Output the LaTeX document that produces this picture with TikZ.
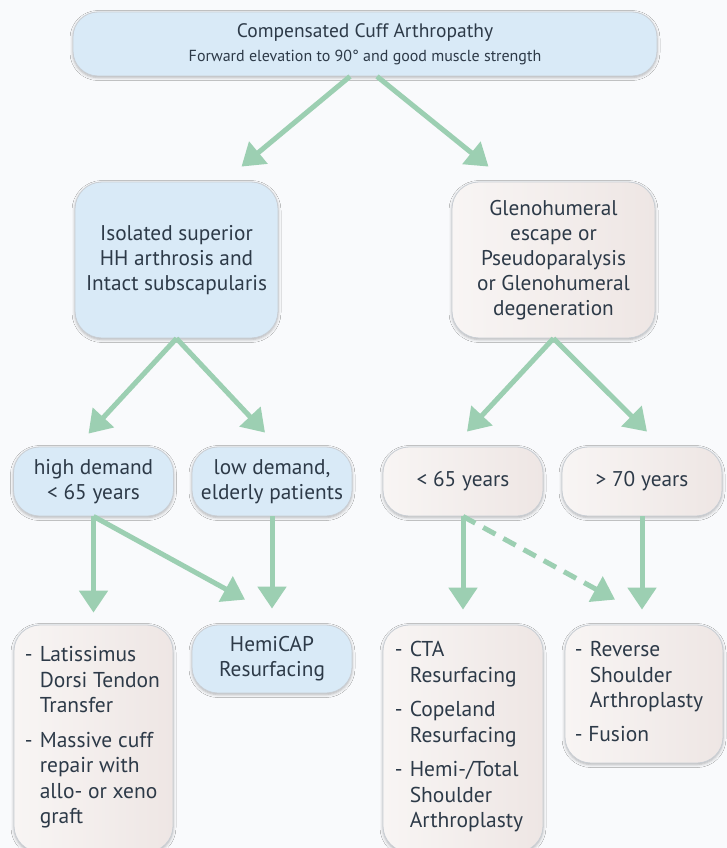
\documentclass[tikz,border=0pt]{standalone}
\usepackage{fontspec}
\setmainfont{PT Sans}
\usetikzlibrary{arrows.meta,calc,shadows.blur}
\definecolor{bgc}{HTML}{F9FAFC}
\definecolor{boxblue}{HTML}{D9EAF7}
\definecolor{beigeL}{HTML}{F8F5F4}
\definecolor{beigeR}{HTML}{EEE6E4}
\definecolor{bordc}{HTML}{C9CED4}
\definecolor{txtc}{HTML}{2D3A48}
\definecolor{arrc}{HTML}{9CCFB2}
\tikzset{
  box/.style={draw=bordc, line width=0.8pt, rounded corners=26pt, inner sep=0pt,
    text=txtc, align=center, font=\fontsize{21.3}{25}\selectfont,
    blur shadow={shadow xshift=0pt, shadow yshift=-1.5pt, shadow blur radius=3pt, shadow opacity=30}},
  bluebox/.style={box, fill=boxblue},
  beigebox/.style={box, left color=beigeL, right color=beigeR},
  listtxt/.style={anchor=base west, inner sep=0pt, text=txtc, font=\fontsize{21.5}{25.5}\selectfont},
  conn/.style={draw=arrc, line width=5pt, -{Triangle[width=28pt,length=22pt]}},
}
\newcommand{\lst}[1]{\begin{tabular}[t]{@{}p{15pt}@{}l@{}}#1\end{tabular}}
\begin{document}
\begin{tikzpicture}[x=1pt,y=-1pt]
\useasboundingbox (0,0) rectangle (727,848);
\clip (0,0) rectangle (727,848);
\fill[bgc] (0,0) rectangle (727,848);

\node[bluebox, minimum width=584pt, minimum height=64pt, rounded corners=25pt] (top) at (365,44)
  {\fontsize{19.5}{23}\selectfont Compensated Cuff Arthropathy\\[-1pt]{\fontsize{16}{18}\selectfont Forward elevation to 90° and good muscle strength}};

\node[bluebox, minimum width=203pt, minimum height=156pt, rounded corners=27pt] (iso) at (176.5,260)
  {Isolated superior\\HH arthrosis and\\Intact subscapularis};
\node[beigebox, minimum width=203pt, minimum height=156pt, rounded corners=27pt] (glen) at (553.5,260)
  {Glenohumeral\\escape or\\Pseudoparalysis\\or Glenohumeral\\degeneration};

\node[bluebox, minimum width=160pt, minimum height=69pt] (high) at (93.5,481.5) {high demand\\< 65 years};
\node[bluebox, minimum width=160pt, minimum height=69pt] (low) at (272,481.5) {low demand,\\elderly patients};
\node[beigebox, minimum width=160pt, minimum height=69pt] (young) at (463,481.5) {< 65 years};
\node[beigebox, minimum width=160pt, minimum height=69pt] (old) at (642,481.5) {> 70 years};

\node[beigebox, minimum width=159pt, minimum height=227pt] (lat) at (93.5,738.5) {};
\node[bluebox, minimum width=160pt, minimum height=68pt] (hemi) at (272,659) {HemiCAP\\Resurfacing};
\node[beigebox, minimum width=160pt, minimum height=227pt] (cta) at (463,738.5) {};
\node[beigebox, minimum width=158pt, minimum height=138pt] (rev) at (644,694) {};

\node[listtxt] (lattxt) at ($(lat.north west)+(11,37)$)
  {\lst{-&Latissimus\\&Dorsi Tendon\\&Transfer\\[9pt]-&Massive cuff\\&repair with\\&allo- or xeno\\&graft}};
\node[listtxt] (ctatxt) at ($(cta.north west)+(12,32)$)
  {\lst{-&CTA\\&Resurfacing\\[9pt]-&Copeland\\&Resurfacing\\[9pt]-&Hemi-/Total\\&Shoulder\\&Arthroplasty}};
\node[listtxt] (revtxt) at ($(rev.north west)+(10,32)$)
  {\lst{-&Reverse\\&Shoulder\\&Arthroplasty\\[8pt]\multicolumn{2}{@{}l@{}}{- Fusion}}};

\draw[conn] ($(top.south)+(-15,0)$) -- ($(iso.north)+(65,-15)$);
\draw[conn] ($(top.south)+(12,0)$) -- ($(glen.north)+(-65,-15)$);
\draw[conn] (iso.south) -- ($(high.north)+(-5,-13)$);
\draw[conn] (iso.south) -- ($(low.north)+(-7,-14)$);
\draw[conn] (glen.south) -- ($(young.north)+(4,-15)$);
\draw[conn] (glen.south) -- ($(old.north)+(5,-15)$);
\draw[conn] (high.south) -- ($(lat.north)+(0,-12)$);
\draw[conn] (high.south) -- ($(hemi.north)+(-27,-25)$);
\draw[conn] (low.south) -- ($(hemi.north)+(0,-16)$);
\draw[conn] (young.south) -- ($(cta.north)+(0,-15)$);
\draw[conn, dash pattern=on 14pt off 9pt] (young.south) -- ($(rev.north)+(-29,-25)$);
\draw[conn] (old.south) -- ($(old.south |- rev.north)+(0,-15)$);
\end{tikzpicture}
\end{document}
